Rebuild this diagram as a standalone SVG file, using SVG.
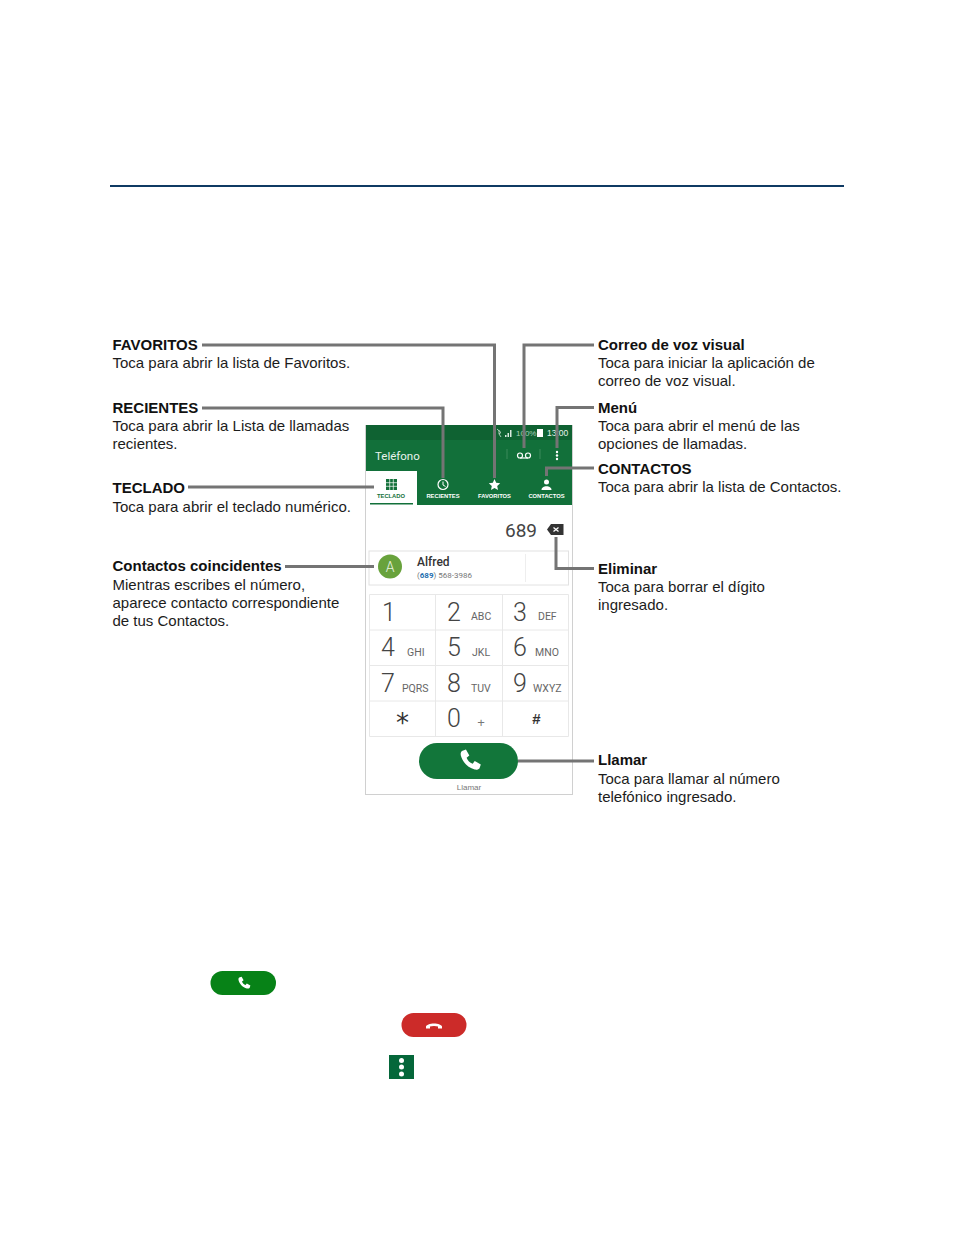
<svg xmlns="http://www.w3.org/2000/svg" width="954" height="1235" viewBox="0 0 954 1235">
<style>
text{font-family:"Liberation Sans",Arial,sans-serif}
.t{font-size:15px;fill:#1c1c1c}
.b{font-size:15px;font-weight:bold;fill:#111}
.c{fill:none;stroke:#747474;stroke-width:3}
.tab{font-size:5.800px;font-weight:bold;fill:#fff;text-anchor:middle}
.d{font-family:Roboto,"Liberation Sans",sans-serif;font-size:25px;font-weight:300;fill:#444}
.l{font-family:Roboto,"Liberation Sans",sans-serif;font-size:10.500px;fill:#666}
.g{stroke:#e8e8e8;stroke-width:1;fill:none}
</style>
<defs>
<path id="ph" d="M-6-7.500l3-1 2.500 4.500-2 1.500c.8 2.200 2.300 3.700 4.500 4.500l1.500-2 4.500 2.500-1 3c-1 1-2.500 1-3.500.8C-1.500 5-5.500 1-6.800-4-7-5.500-7-6.500-6-7.500z" fill="#fff"/>
</defs>
<rect width="954" height="1235" fill="#fff"/>
<rect x="110" y="185" width="734" height="2" fill="#0f3a63"/>

<g id="phone">
<rect x="365.500" y="425.500" width="207" height="369" fill="#fff" stroke="#d0d0d0"/>
<rect x="366" y="425" width="206" height="80" fill="#12703a"/>
<rect x="366" y="425" width="206" height="15" fill="#0f6232"/>
<rect x="366" y="471" width="51" height="34" fill="#fff"/>
<rect x="370" y="503" width="43" height="1.500" fill="#12703a"/>
<text x="375" y="460" font-size="11.500" fill="#e8f3ec" style="font-family:Roboto,'Liberation Sans',sans-serif">Teléfono</text>
<path d="M497 429l4 3.500-2 1.500v-4M499 434l2 3" fill="none" stroke="#cfe3d6" stroke-width=".8"/>
<path d="M505 437h1.500v-2H505zM507.500 437h1.500v-4h-1.500zM510 437h1.500v-7H510z" fill="#dbe9e0"/>
<text x="516" y="436" font-size="8" fill="#a9cdb7">100%</text>
<rect x="537" y="429" width="6" height="8" fill="#fff"/>
<text x="547" y="436" font-size="8.500" fill="#e8f3ec">13:00</text>
<path d="M507 449v10M540 449v10" stroke="#3a8a5a"/>
<g fill="none" stroke="#fff" stroke-width="1.200"><circle cx="520" cy="455.500" r="2.500"/><circle cx="528" cy="455.500" r="2.500"/><path d="M520 458h8"/></g>
<g fill="#fff"><circle cx="557" cy="452" r="1.200"/><circle cx="557" cy="455.500" r="1.200"/><circle cx="557" cy="459" r="1.200"/></g>
<rect x="386" y="479" width="11" height="11" fill="#12703a"/>
<path d="M386 482.700h11M386 486.300h11M389.700 479v11M393.300 479v11" stroke="#fff" stroke-width=".7"/>
<text x="391" y="498" font-size="5.800" font-weight="bold" fill="#12703a" text-anchor="middle">TECLADO</text>
<circle cx="443" cy="484.500" r="5" fill="none" stroke="#fff" stroke-width="1.200"/>
<path d="M443 481.500v3.500l2.500 1.500" fill="none" stroke="#fff"/>
<text x="443" y="498" class="tab">RECIENTES</text>
<path d="M494.500 479l1.700 3.700 4 .5-3 2.700.8 4-3.500-2-3.500 2 .8-4-3-2.700 4-.5z" fill="#fff"/>
<text x="494.500" y="498" class="tab">FAVORITOS</text>
<circle cx="546.500" cy="482" r="2.500" fill="#fff"/>
<path d="M541.500 490c0-5 10-5 10 0z" fill="#fff"/>
<text x="546.500" y="498" class="tab">CONTACTOS</text>
<text x="505" y="536.500" font-size="19" fill="#444" style="font-family:Roboto,'Liberation Sans',sans-serif">689</text>
<path d="M551 524h12.500v11H551l-4-5.500z" fill="#333"/>
<path d="M553.500 527.500l5 4M558.500 527.500l-5 4" stroke="#fff" stroke-width="1.300"/>
<rect x="369" y="551" width="199.500" height="34" fill="#fff" stroke="#e2e2e2"/>
<path d="M525.500 554v28" stroke="#eee"/>
<circle cx="390" cy="566.500" r="12" fill="#68a23c"/>
<text x="390" y="571.500" font-size="14" font-weight="300" fill="#e9f2e0" text-anchor="middle" style="font-family:Roboto,'Liberation Sans',sans-serif">A</text>
<text x="417" y="565.500" font-size="12" font-weight="500" fill="#333" style="font-family:Roboto,'Liberation Sans',sans-serif">Alfred</text>
<text x="417" y="577.500" font-size="8" fill="#777" style="font-family:Roboto,'Liberation Sans',sans-serif">(<tspan fill="#1f6fb0" font-weight="bold">689</tspan>) 568-3986</text>
</g>

<g id="keypad">
<path class="g" d="M369.500 594.500h199v142h-199zM369.500 630h199M369.500 665.500h199M369.500 701h199M435.500 594.500v142M502.500 594.500v142"/>
<text class="d" x="382" y="621">1</text><text class="d" x="447" y="621">2</text><text class="l" x="471" y="620">ABC</text><text class="d" x="513" y="621">3</text><text class="l" x="538" y="620">DEF</text>
<text class="d" x="381" y="656">4</text><text class="l" x="407" y="656">GHI</text><text class="d" x="447" y="656">5</text><text class="l" x="472" y="656">JKL</text><text class="d" x="513" y="656">6</text><text class="l" x="535" y="656">MNO</text>
<text class="d" x="381" y="692">7</text><text class="l" x="402" y="692">PQRS</text><text class="d" x="447" y="692">8</text><text class="l" x="471" y="692">TUV</text><text class="d" x="513" y="692">9</text><text class="l" x="533" y="692">WXYZ</text>
<text x="402.500" y="732" font-size="26" fill="#333" text-anchor="middle" style="font-family:'DejaVu Sans',sans-serif">*</text><text class="d" x="447" y="727">0</text><text x="481" y="727" font-size="13" fill="#777" text-anchor="middle">+</text><text x="536.500" y="724" font-size="15" font-weight="bold" fill="#333" text-anchor="middle">#</text>
</g>

<g id="call-button">
<rect x="419" y="743" width="99" height="36" rx="18" fill="#12763a"/>
<use href="#ph" transform="translate(470 761) scale(1.350)"/>
<text x="469" y="790" font-size="8" fill="#777" text-anchor="middle">Llamar</text>
</g>

<g id="connectors">
<path class="c" d="M202 345H494.500V478"/>
<path class="c" d="M594 345H524V448"/>
<path class="c" d="M202 408H443V478"/>
<path class="c" d="M594 407.500H557V448"/>
<path class="c" d="M594 468H546.500V476"/>
<path class="c" d="M188 487H374"/>
<path class="c" d="M285 566.500H374"/>
<path class="c" d="M594 568.500H556V537"/>
<path class="c" d="M518 761H594"/>
</g>

<g id="label-favoritos"><text class="b" x="112.500" y="350">FAVORITOS</text><text class="t" x="112.500" y="368">Toca para abrir la lista de Favoritos.</text></g>
<g id="label-recientes"><text class="b" x="112.500" y="413">RECIENTES</text><text class="t" x="112.500" y="431">Toca para abrir la Lista de llamadas</text><text class="t" x="112.500" y="449">recientes.</text></g>
<g id="label-teclado"><text class="b" x="112.500" y="493">TECLADO</text><text class="t" x="112.500" y="512">Toca para abrir el teclado numérico.</text></g>
<g id="label-contactos-coincidentes"><text class="b" x="112.500" y="571">Contactos coincidentes</text><text class="t" x="112.500" y="590">Mientras escribes el número,</text><text class="t" x="112.500" y="608">aparece contacto correspondiente</text><text class="t" x="112.500" y="626">de tus Contactos.</text></g>
<g id="label-correo"><text class="b" x="598" y="350">Correo de voz visual</text><text class="t" x="598" y="368">Toca para iniciar la aplicación de</text><text class="t" x="598" y="386">correo de voz visual.</text></g>
<g id="label-menu"><text class="b" x="598" y="413">Menú</text><text class="t" x="598" y="431">Toca para abrir el menú de las</text><text class="t" x="598" y="449">opciones de llamadas.</text></g>
<g id="label-contactos"><text class="b" x="598" y="474">CONTACTOS</text><text class="t" x="598" y="492">Toca para abrir la lista de Contactos.</text></g>
<g id="label-eliminar"><text class="b" x="598" y="574">Eliminar</text><text class="t" x="598" y="592">Toca para borrar el dígito</text><text class="t" x="598" y="610">ingresado.</text></g>
<g id="label-llamar"><text class="b" x="598" y="765">Llamar</text><text class="t" x="598" y="784">Toca para llamar al número</text><text class="t" x="598" y="802">telefónico ingresado.</text></g>

<g id="icon-call"><rect x="210.500" y="971" width="65.500" height="24" rx="12" fill="#078217"/><use href="#ph" transform="translate(244 983.500) scale(.8)"/></g>
<g id="icon-end"><rect x="401.500" y="1013" width="65" height="24" rx="12" fill="#cc2b29"/><path d="M426 1028.500v-2c0-1.500 4-3 8-3s8 1.500 8 3v2h-4v-2c-2-.8-6-.8-8 0v2z" fill="#fff"/></g>
<g id="icon-menu"><rect x="389" y="1055" width="25" height="24" fill="#05673a"/><g fill="#fff"><circle cx="401.500" cy="1060.500" r="2.500"/><circle cx="401.500" cy="1067" r="2.500"/><circle cx="401.500" cy="1074" r="2.500"/></g></g>
</svg>
